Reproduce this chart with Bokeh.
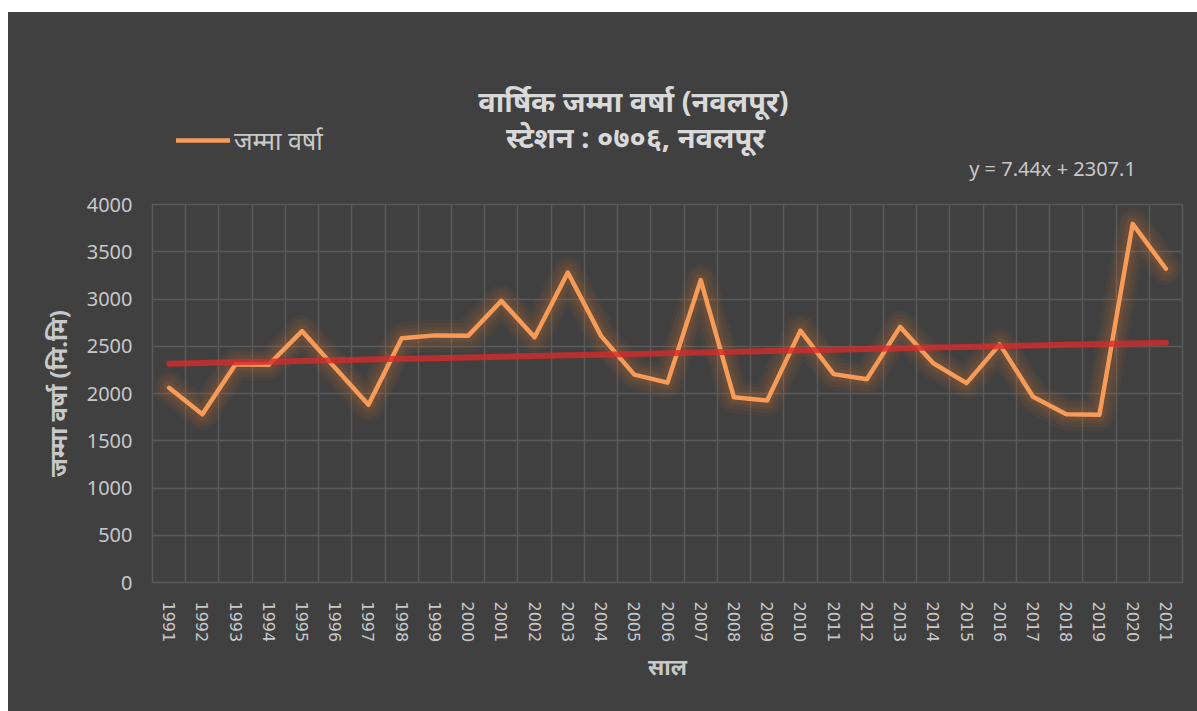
from bokeh.plotting import figure
from bokeh.models import FixedTicker, Label, Legend, LegendItem, Grid, Spacer
from bokeh.layouts import column, row
from bokeh.embed import file_html
from bokeh.resources import INLINE

# ---- data ----
years = list(range(1991, 2022))
rainfall = [2060, 1780, 2310, 2305, 2660, 2270, 1880, 2585, 2615, 2610,
            2980, 2595, 3280, 2610, 2200, 2115, 3200, 1960, 1925, 2665,
            2205, 2150, 2705, 2320, 2110, 2520, 1965, 1780, 1775, 3795, 3320]
trend_slope = 7.44
trend_intercept = 2307.1
y_ticks = [0, 500, 1000, 1500, 2000, 2500, 3000, 3500, 4000]
series_name = "जम्मा वर्षा"
title_line1 = "वार्षिक जम्मा वर्षा (नवलपूर)"
title_line2 = "स्टेशन : ०७०६, नवलपूर"
y_label = "जम्मा वर्षा (मि.मि)"
x_label = "साल"
trend_text = "y = 7.44x + 2307.1"

trend = [trend_slope * (i + 1) + trend_intercept for i in range(len(years))]

BG = "#404040"
TXT = "#D9D9D9"
LBL = "#C8C8C8"
GRID = "#5A5A5A"
DEV_FONT = "Noto Sans"
LINE_COLOR = "#F79B58"
W = 1189
HEAD_H = 180
B_LEFT, B_RIGHT = 144, 15
FRAME_W = W - B_LEFT - B_RIGHT

# ---------- header (titles, legend, trend equation) ----------
head = figure(width=W, height=HEAD_H, output_backend="svg", toolbar_location=None,
              x_range=(0, FRAME_W), y_range=(0, HEAD_H), x_axis_type=None, y_axis_type=None,
              background_fill_color=BG, background_fill_alpha=0, border_fill_color=BG,
              min_border_left=B_LEFT, min_border_right=B_RIGHT,
              min_border_top=0, min_border_bottom=0)
head.outline_line_color = None
head.grid.visible = False

# a one-point renderer (outside the header's view) that only supplies the legend glyph style
legend_line = head.line(years[:1], rainfall[:1], line_color=LINE_COLOR, line_width=4.5,
                        line_cap="round")
legend = Legend(items=[LegendItem(label=series_name, renderers=[legend_line])],
                location=(24, 35), background_fill_alpha=0, border_line_alpha=0,
                label_text_color=LBL, label_text_font=DEV_FONT,
                label_text_font_size="25px", glyph_width=54, glyph_height=24,
                label_height=24, padding=0, margin=0, label_standoff=4)
head.add_layout(legend, "center")

head.add_layout(Label(x=481, y=92, text=title_line1,
                      text_align="center", text_baseline="middle", text_color=TXT,
                      text_font=DEV_FONT, text_font_size="29px", text_font_style="bold"))
head.add_layout(Label(x=483, y=56, text=title_line2,
                      text_align="center", text_baseline="middle", text_color=TXT,
                      text_font=DEV_FONT, text_font_size="29px", text_font_style="bold"))
head.add_layout(Label(x=900, y=24, text=trend_text,
                      text_align="center", text_baseline="middle", text_color=LBL,
                      text_font="Noto Sans", text_font_size="20px"))

# ---------- main chart ----------
p = figure(width=W, height=519, output_backend="svg", toolbar_location=None,
           x_range=(years[0] - 0.5, years[-1] + 0.5), y_range=(0, 4000),
           background_fill_color=BG, border_fill_color=BG,
           min_border_left=B_LEFT, min_border_right=B_RIGHT,
           min_border_top=12, min_border_bottom=129)
p.outline_line_color = GRID
p.outline_line_width = 1.5

# grids
p.xgrid.visible = False
p.ygrid.ticker = FixedTicker(ticks=y_ticks)
p.ygrid.grid_line_color = GRID
p.ygrid.grid_line_width = 1.5
vgrid = Grid(dimension=0, ticker=FixedTicker(ticks=[y - 0.5 for y in years] + [years[-1] + 0.5]),
             grid_line_color=GRID, grid_line_width=1.5)
p.add_layout(vgrid)

# axes
p.xaxis.ticker = FixedTicker(ticks=years)
p.yaxis.ticker = FixedTicker(ticks=y_ticks)
for ax in (p.xaxis[0], p.yaxis[0]):
    ax.axis_line_color = None
    ax.major_tick_line_color = None
    ax.minor_tick_line_color = None
    ax.major_label_text_color = LBL
    ax.axis_label_text_color = LBL
    ax.axis_label_text_font = DEV_FONT
    ax.axis_label_text_font_style = "bold"
p.xaxis.major_label_text_font = "DejaVu Sans"
p.yaxis.major_label_text_font = "Noto Sans"
p.xaxis.major_label_orientation = "vertical"
p.xaxis.major_label_text_font_size = "16px"
p.yaxis.major_label_text_font_size = "20px"
p.yaxis.major_label_standoff = 14
p.xaxis.major_label_standoff = 13
p.xaxis.axis_label = x_label
p.yaxis.axis_label = y_label
p.xaxis.axis_label_text_font_size = "22px"
p.yaxis.axis_label_text_font_size = "24px"
p.xaxis.axis_label_standoff = 6
p.yaxis.axis_label_standoff = 10

# glow under the main line
for w, a in [(32, 0.06), (25, 0.07), (18, 0.08), (12, 0.10)]:
    p.line(years, rainfall, line_color="#D9772E", line_width=w, line_alpha=a,
           line_join="round", line_cap="round")

p.line(years, rainfall, line_color=LINE_COLOR, line_width=4.5,
       line_join="round", line_cap="round")
p.line(years, trend, line_color="#D42A2A", line_width=6, line_alpha=0.8,
       line_cap="round")

chart = column(head, p, spacing=0, styles={"background-color": BG})
layout = column(Spacer(height=12, width=1197),
                row(Spacer(width=8, height=699), chart, spacing=0),
                spacing=0)
open("out.html", "w").write(file_html(layout, INLINE))
